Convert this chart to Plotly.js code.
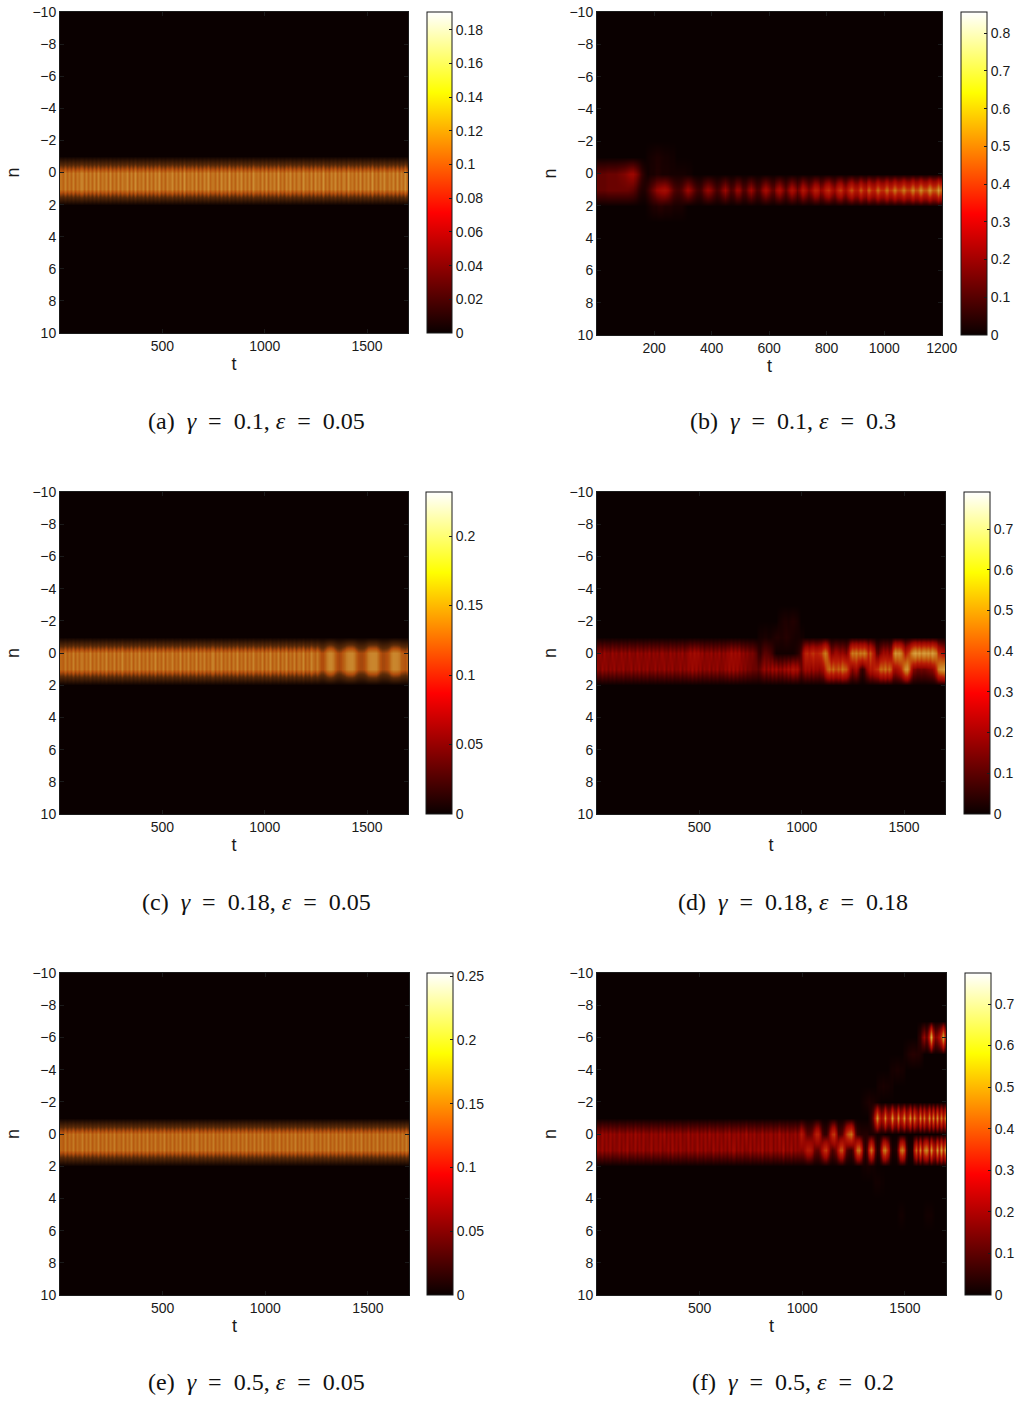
<!DOCTYPE html>
<html><head><meta charset="utf-8">
<script src="https://cdn.plot.ly/plotly-3.0.1.min.js"></script>
<style>html,body{margin:0;padding:0;background:#fff}#g{width:1021px;height:1401px}</style></head>
<body><div id="g"></div>
<script>
// Site amplitudes. Each column is 10 time units wide.
const aSite=[.11,.1,.12,.1,.115,.1,.12,.098,.115,.105,.125,.1,.12,.1,.118,.1,.122,
.1,.125,.1,.115,.105,.12,.098,.125,.1,.115,.1,.122,.1,.118,.105,.125,
.098,.12,.1,.128,.1,.115,.105,.12,.098,.125,.1,.118,.1,.122,.105,.128,
.1,.115,.098,.12,.105,.125,.1,.118,.1,.122,.098,.13,.1,.115,.105,.12,
.1,.125,.098,.118,.1,.122,.105,.128,.1,.115,.1,.12,.098,.125,.105,.118,
.1,.13,.1,.115,.098,.122,.105,.125,.1,.118,.1,.12,.098,.128,.105,.115,
.1,.122,.1,.125,.098,.118,.105,.12,.1,.13,.1,.115,.098,.122,.105,.125,
.1,.118,.1,.12,.098,.128,.105,.115,.1,.122,.098,.125,.105,.118,.1,.13,
.1,.115,.098,.12,.105,.125,.1,.118,.1,.122,.098,.128,.105,.115,.1,.12,
.1,.125,.098,.118,.105,.122,.1,.13,.1,.115,.098,.12,.105,.125,.1,.118,.105,.122,
.1,.125,.1,.118,.105,.128,.1,.122];
const cSite=[.125,.118,.14,.118,.135,.12,.145,.118,.138,.12,.142,.118,.136,.122,.148,.118,.135,
.12,.142,.118,.138,.122,.148,.118,.135,.12,.144,.116,.138,.122,.15,.118,.135,
.12,.145,.116,.14,.122,.148,.118,.135,.12,.142,.116,.138,.122,.15,.118,.135,
.12,.145,.116,.14,.122,.146,.118,.134,.12,.15,.116,.138,.122,.145,.118,.135,
.12,.148,.116,.14,.122,.144,.118,.134,.12,.15,.116,.138,.122,.146,.118,.135,
.12,.142,.116,.14,.122,.15,.118,.134,.12,.145,.116,.138,.122,.148,.118,.135,
.12,.145,.114,.14,.122,.15,.118,.134,.12,.146,.114,.138,.122,.148,.116,.135,
.12,.144,.114,.14,.122,.15,.116,.134,.12,.148,
.13,.12,.14,.12,.105,.105,.12,.14,.15,.15,.14,.12,.105,.1,.105,.12,.14,.148,
.15,.15,.14,.12,.105,.1,.1,.105,.12,.14,.148,.15,.15,.148,.13,.11,.1,.1,.105,.12,.14,.15,.15,.148,.14,.12,.115,.11,.12,.13];
const eSite=[.135,.125,.15,.125,.145,.13,.152,.125,.145,.13,.155,.125,.148,.128,.152,.125,.145,
.13,.155,.125,.145,.128,.152,.125,.148,.13,.155,.125,.145,.128,.152,.126,.148,
.13,.156,.125,.145,.128,.152,.125,.148,.13,.155,.125,.145,.128,.152,.126,.148,
.13,.156,.125,.145,.128,.15,.125,.148,.13,.155,.125,.145,.128,.152,.126,.148,
.13,.156,.125,.145,.128,.152,.125,.148,.13,.155,.125,.145,.128,.15,.126,.148,
.13,.156,.125,.145,.128,.152,.125,.148,.13,.155,.125,.145,.128,.152,.126,.148,
.13,.156,.125,.145,.128,.15,.125,.148,.13,.155,.125,.145,.128,.152,.126,.148,
.13,.156,.125,.145,.128,.152,.125,.148,.13,.155,.125,.145,.128,.15,.126,.148,
.13,.156,.125,.145,.128,.152,.125,.148,.13,.155,.125,.145,.128,.152,.126,.148,
.13,.156,.125,.145,.128,.15,.125,.148,.13,.155,.125,.145,.128,.152,.126,.148,.13,.15,
.128,.152,.126,.148,.13,.155,.125,.15];

const bN0=[.12,.12,.12,.13,.13,.13,.13,.14,.15,.16,.18,.2,.2,.17,.12,.06,.03,.01,.02,.02,.03,.03,.02,.02,.02,.015,.015,.015,.015,.015,.015,.01,.01];
const bN1=[.12,.12,.12,.13,.13,.13,.13,.13,.13,.13,.13,.12,.11,.09,.05,.03,.03,.06,.1,.14,.18,.2,.22,
.23,.2,.15,.1,.08,.08,.1,.15,.2,.17,.12,.08,.07,.1,.15,.19,.17,.12,.08,.1,.16,.2,.15,.09,.11,.19,.18,.1,.1,.17,.2,.15,.09,.1,.18,.23,.18,
.12,.12,.2,.24,.17,.11,.18,.25,.2,.13,.17,.28,.22,.15,.2,.3,.28,.18,.2,.3,.34,.24,.19,.31,.36,.26,.21,.32,.4,.28,.27,.42,.3,.28,.44,.32,.3,.46,
.34,.33,.47,.35,.35,.49,.36,.38,.5,.37,.37,.52,.39,.39,.54,.4,.4,.56,.41,.42,.58,.46];
const bN2From17=[.01,.02,.03,.03,.04,.04,.03,.03,.03,.02,.02,.02,.02,.01];
const bNm1From17=[.01,.015,.02,.025,.025,.02,.015,.015,.01,.01];

const dN0=[.15,.17,.14,.18,.15,.16,.14,.18,.15,.17,.14,.18,.15,.17,.14,.18,.15,.16,.14,.18,.15,.17,.14,.17,.15,.18,.14,.17,.15,.17,.14,.18,.15,.16,.14,.18,.15,.17,.14,.17,.15,.18,.14,.16,
.17,.2,.17,.21,.18,.2,.16,.18,.14,.17,.15,.18,.14,.17,.15,.18,.14,.17,.15,.18,.17,.21,.17,.2,.17,.2,.15,.17,.14,.16,.13,.14,.12,
.1,.06,.05,.08,.1,.1,.09,.08,.06,.03,.01,.01,.01,.01,.01,.01,.01,.01,.01,.02,.03,.05,.1,.2,.28,.3,.26,.3,.32,.28,.28,.3,.32,.4,.45,.38,.25,.15,.16,.2,.18,.16,.18,.16,.14,.2,.35,.45,.42,.46,.4,.45,.42,.46,.4,.3,.38,.3,.24,.12,.1,.15,.2,.18,.2,.16,.2,.4,.52,.48,.5,.45,.35,.25,.3,.35,.45,.52,.56,.5,.55,.48,.55,.5,.54,.48,.55,.5,.45,.3,.28,.25,.22];
const dN1=[.16,.14,.18,.15,.17,.14,.17,.15,.18,.14,.17,.15,.18,.14,.16,.15,.18,.14,.17,.15,.18,.14,.17,.15,.18,.14,.16,.15,.18,.14,.17,.15,.18,.14,.17,.15,.18,.14,.16,.15,.18,.14,.17,.15,
.18,.16,.2,.16,.19,.15,.18,.14,.17,.15,.18,.14,.17,.15,.18,.14,.16,.15,.18,.16,.2,.16,.2,.16,.19,.15,.17,.14,.16,.13,.14,.12,.12,
.12,.1,.12,.15,.18,.14,.18,.15,.2,.16,.2,.15,.18,.15,.2,.17,.22,.18,.24,.2,.22,.16,.12,.16,.2,.18,.2,.16,.2,.17,.18,.16,.18,.2,.3,.38,.42,.36,.42,.34,.4,.36,.44,.4,.38,.3,.2,.15,.18,.2,.15,.08,.05,.08,.15,.2,.26,.24,.28,.3,.32,.42,.38,.44,.36,.42,.36,.22,.2,.22,.25,.3,.4,.5,.52,.4,.25,.15,.14,.12,.12,.13,.12,.13,.14,.15,.16,.2,.3,.45,.5,.52,.55];
const dNm1From78=[.01,.015,.015,.02,.02,.015,.015,.02,.025,.03,.03,.025,.025,.03,.035,.03,.025,.02,.015,.015,.015,.01,.01];
const dNm2From88=[.01,.015,.02,.025,.025,.02,.025,.03,.025,.02,.01];

const fN0=[.16,.14,.18,.15,.17,.14,.18,.15,.17,.14,.18,.15,.16,.14,.18,.15,.17,.14,.19,.15,.17,.14,.18,.15,.16,.14,.18,.15,.17,.14,.18,.15,.19,.14,.17,.15,.18,.14,.17,.15,.18,.14,.16,.15,.19,.14,.17,.15,.18,.14,.17,.15,.18,.14,.19,.15,.17,.14,.18,.15,.16,.14,.18,.15,.19,.14,.17,.15,.18,.14,.17,.15,.2,.14,.17,.15,.18,.14,.16,.15,.19,.14,.17,.15,.18,.14,.17,.15,.2,.15,.17,.14,.18,.14,.16,.15,.18,.14,.18,
.25,.2,.14,.1,.1,.13,.2,.27,.27,.18,.08,.05,.05,.1,.2,.3,.32,.2,.08,.08,.1,.18,.3,.38,.42,.3,.12,.05,.04,.03,.03,.03,.03,.02,.02,.02,.02,.01,.01,.01,.01];
const fN1=[.17,.15,.18,.14,.17,.15,.18,.14,.16,.15,.18,.14,.17,.15,.19,.14,.16,.15,.18,.14,.17,.15,.18,.14,.16,.15,.19,.14,.17,.15,.18,.14,.16,.15,.18,.14,.19,.15,.17,.14,.18,.15,.16,.14,.18,.15,.17,.14,.19,.15,.17,.14,.18,.15,.16,.14,.19,.15,.17,.14,.18,.15,.17,.14,.18,.15,.2,.14,.17,.15,.18,.14,.16,.15,.19,.14,.17,.15,.18,.15,.2,.14,.17,.15,.19,.14,.17,.15,.18,.15,.21,.14,.17,.15,.19,.14,.17,.15,.16,
.15,.16,.2,.25,.25,.2,.12,.1,.1,.14,.22,.3,.32,.22,.12,.08,.1,.14,.25,.35,.36,.22,
.1,.06,.05,.1,.25,.4,.42,.3,.1,.04,.1,.3,.42,.3,.1,.03,.05,.2,.4,.44,.3,.08,.02,.02,.03,.15,.38,.44,.35,.1,.02,.02,.03,.25,.4,.22,.46,.22,.4,.48,.22,.5,.3,.24,.5,.28,.52,.3,.48];
const fNm1From132=[.02,.05,.12,.28,.48,.3,.2,.24,.46,.22,.26,.5,.28,.24,.48,.25,.3,.48,.24,.3,.48,.22,.44,.3,.22,.46,.24,.44,.22,.48,.24,.46,.22,.48,.24,.44,.26,.42];
const fNm2From128=[.005,.01,.015,.02,.025,.02,.02,.015,.01,.005];
const fNm3From136=[.01,.015,.015,.02,.015,.015,.01,.01];
const fNm4From142=[.01,.015,.015,.02,.02,.015,.015,.01];
const fNm5From149=[.01,.015,.025,.03,.035,.035,.03,.03,.025,.015];
const fNm6From156=[.03,.05,.12,.17,.1,.28,.56,.26,.14,.16,.22,.33,.54,.26];
const fN2From128=[.005,.01,.01,.015,.015,.01,.01,.005];
const fN3From134=[.005,.01,.01,.01,.005,.005];
const fN5From146=[.005,.01,.01,.005,.0,.0,.0,.0,.0,.0,.0,.0,.0,.005,.01,.01,.01,.005];

const hotScale=[[0,'#0a0000'],[.375,'#ff0000'],[.75,'#ffff00'],[1,'#ffffff']];
// The source blends sub-pixel stripes, so its band colours sit off the pure colormap.
const fineScale=[[0,'#0a0000'],[.3,'#5a2a08'],[.45,'#b04c0c'],[.55,'#bd6a18'],[.62,'#c67e28'],[.7,'#d09438'],[.85,'#e8c878'],[1,'#ffffff']];
const coarseScale=[[0,'#0a0000'],[.1,'#480000'],[.22,'#960500'],[.35,'#b81c05'],[.5,'#c4600f'],[.6,'#cc8428'],[.75,'#e0ac48'],[1,'#ffffff']];

const rowsA={0:aSite,1:aSite};
const rowsB={0:bN0,1:bN1,2:[17,bN2From17],'-1':[17,bNm1From17]};
const rowsC={0:cSite,1:cSite};
const rowsD={0:dN0,1:dN1,'-1':[78,dNm1From78],'-2':[88,dNm2From88]};
const rowsE={0:eSite,1:eSite};
const rowsF={0:fN0,1:fN1,'-1':[132,fNm1From132],'-2':[128,fNm2From128],'-3':[136,fNm3From136],'-4':[142,fNm4From142],'-5':[149,fNm5From149],'-6':[156,fNm6From156],2:[128,fN2From128],3:[134,fN3From134],5:[146,fN5From146]};

const xTicksFull=[500,1000,1500];
const xTicksB=[200,400,600,800,1000,1200];
const nRows=[-10,-9,-8,-7,-6,-5,-4,-3,-2,-1,0,1,2,3,4,5,6,7,8,9,10];

const sp='\u00a0\u00a0';
const cap=(tag,g,e)=>`(${tag})${sp}<i>γ</i>${sp}=${sp}${g}, <i>ε</i>${sp}=${sp}${e}`;
const panels=[
 {rows:rowsA,cols:170,tMax:1700,ticks:xTicksFull,box:[60,408,12,333],bar:[427,452],zmax:.1905,dtick:.02,scale:fineScale,cap:cap('a','0.1','0.05'),capX:256,capY:421},
 {rows:rowsB,cols:120,tMax:1201,ticks:xTicksB,box:[597,942,12,335],bar:[961,987],zmax:.856,dtick:.1,scale:coarseScale,cap:cap('b','0.1','0.3'),capX:793,capY:421},
 {rows:rowsC,cols:170,tMax:1700,ticks:xTicksFull,box:[60,408,492,814],bar:[426,452],zmax:.2317,dtick:.05,scale:fineScale,cap:cap('c','0.18','0.05'),capX:256,capY:902},
 {rows:rowsD,cols:170,tMax:1700,ticks:xTicksFull,box:[597,945,492,814],bar:[964,990],zmax:.791,dtick:.1,scale:coarseScale,cap:cap('d','0.18','0.18'),capX:793,capY:902},
 {rows:rowsE,cols:170,tMax:1700,ticks:xTicksFull,box:[60,409,973,1295],bar:[427,453],zmax:.2524,dtick:.05,scale:fineScale,cap:cap('e','0.5','0.05'),capX:256,capY:1382},
 {rows:rowsF,cols:170,tMax:1700,ticks:xTicksFull,box:[597,946,973,1295],bar:[965,991],zmax:.7746,dtick:.1,scale:coarseScale,cap:cap('f','0.5','0.2'),capX:793,capY:1382}
];

const W=1021,H=1401,sans='"Liberation Sans",Arial,sans-serif',serif='"Liberation Serif",serif',ink='#1a1a1a';
const layout={width:W,height:H,margin:{l:0,r:0,t:0,b:0,autoexpand:false},paper_bgcolor:'#fff',plot_bgcolor:'#000',showlegend:false,annotations:[]};
const traces=[];
function buildZ(p){
  return nRows.map(n=>{
    const row=new Array(p.cols).fill(0), src=p.rows[n];
    if(!src) return row;
    const offset=src.length===2&&Array.isArray(src[1]);
    const start=offset?src[0]:0, vals=offset?src[1]:src;
    vals.forEach((v,i)=>{if(start+i<p.cols)row[start+i]=v;});
    return row;
  });
}
panels.forEach((p,i)=>{
  const k=i+1,xa='xaxis'+k,ya='yaxis'+k,[l,r,t,b]=p.box,z=buildZ(p);
  const dx=p.tMax/p.cols;
  layout[xa]={domain:[l/W,r/W],anchor:'y'+k,range:[p.tMax===1201?1:0,p.tMax],tickmode:'array',tickvals:p.ticks,ticktext:p.ticks.map(String),
    ticks:'inside',ticklen:4,tickcolor:ink,showline:true,linecolor:ink,linewidth:1,mirror:'ticks',showgrid:false,zeroline:false,
    tickfont:{family:sans,size:14,color:ink},title:{text:'t',font:{family:sans,size:18,color:ink},standoff:4}};
  layout[ya]={domain:[1-b/H,1-t/H],anchor:'x'+k,range:[10,-10],tick0:-10,dtick:2,
    ticks:'inside',ticklen:4,tickcolor:ink,showline:true,linecolor:ink,linewidth:1,mirror:'ticks',showgrid:false,zeroline:false,
    tickfont:{family:sans,size:14,color:ink},title:{text:'n',font:{family:sans,size:18,color:ink},standoff:8}};
  const base={type:'heatmap',z,x0:(p.tMax===1201?1:0)+dx/2,dx,y:nRows,xaxis:'x'+k,yaxis:'y'+k,zmin:0,zmax:p.zmax,zsmooth:'best',hoverinfo:'skip'};
  traces.push(Object.assign({},base,{colorscale:hotScale,showscale:true,colorbar:{
    x:p.bar[0]/W,xanchor:'left',xpad:0,ypad:0,y:1-b/H,yanchor:'bottom',len:(b-t)/H,lenmode:'fraction',
    thickness:p.bar[1]-p.bar[0],thicknessmode:'pixels',outlinecolor:ink,outlinewidth:1,borderwidth:0,
    tick0:0,dtick:p.dtick,ticks:'inside',ticklen:3,tickcolor:ink,tickfont:{family:sans,size:14,color:ink}}}));
  traces.push(Object.assign({},base,{colorscale:p.scale,showscale:false}));
  layout.annotations.push({xref:'paper',yref:'paper',x:p.capX/W,y:1-p.capY/H,xanchor:'center',yanchor:'middle',showarrow:false,text:p.cap,font:{family:serif,size:24,color:'#111'}});
});
Plotly.newPlot('g',traces,layout,{displayModeBar:false,staticPlot:true});
</script></body></html>
